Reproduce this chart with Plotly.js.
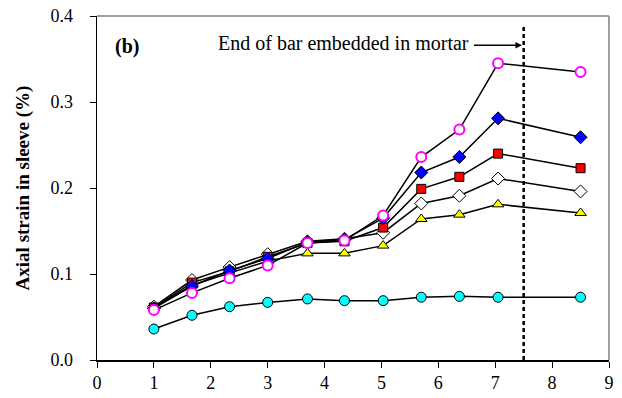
<!DOCTYPE html>
<html>
<head>
<meta charset="utf-8">
<script src="https://cdn.plot.ly/plotly-3.0.1.min.js"></script>
<style>
  html, body { margin: 0; padding: 0; background: #fff; }
  #chart { width: 622px; height: 398px; }
</style>
</head>
<body>
<div id="chart"></div>
<script>
// Measurement positions along the sleeve
const position = [1, 1.67, 2.33, 3, 3.7, 4.35, 5.03, 5.7, 6.37, 7.05, 8.5];

// Axial strain in sleeve (%) for each loading stage
const strainYellow  = [0.061, 0.087, 0.101, 0.115, 0.124, 0.124, 0.133, 0.164, 0.169, 0.181, 0.171];
const strainWhite   = [0.062, 0.093, 0.108, 0.123, 0.138, 0.141, 0.148, 0.182, 0.191, 0.211, 0.196];
const strainRed     = [0.061, 0.090, 0.103, 0.120, 0.136, 0.138, 0.154, 0.199, 0.213, 0.240, 0.223];
const strainBlue    = [0.060, 0.086, 0.104, 0.118, 0.137, 0.140, 0.165, 0.218, 0.236, 0.281, 0.259];
const strainMagenta = [0.058, 0.078, 0.095, 0.110, 0.136, 0.139, 0.168, 0.236, 0.268, 0.345, 0.335];
const strainCyan    = [0.036, 0.052, 0.062, 0.067, 0.071, 0.069, 0.069, 0.073, 0.074, 0.073, 0.073];

// End of the embedded bar
const barEnd = 7.5;

const xTicks = [0, 1, 2, 3, 4, 5, 6, 7, 8, 9];
const yTicks = [0, 0.1, 0.2, 0.3, 0.4];

const FONT = '"Liberation Serif", "Times New Roman", Times, serif';

function series(name, y, symbol, fill, edge, edgeWidth, size) {
  return {
    type: 'scatter', mode: 'lines+markers', name: name,
    x: position, y: y,
    line: { color: '#000', width: 1.5 },
    marker: { symbol: symbol, size: size, color: fill,
              line: { color: edge, width: edgeWidth } },
    showlegend: false, hoverinfo: 'x+y'
  };
}

const traces = [
  series('Stage 1', strainCyan, 'circle', '#00ffff', '#000', 1, 10),
  series('Stage 2', strainYellow, 'triangle-up', '#ffff00', '#000', 1, 10),
  series('Stage 3', strainWhite, 'diamond', '#ffffff', '#000', 1, 10),
  series('Stage 4', strainRed, 'square', '#ff0000', '#000', 1, 9),
  series('Stage 5', strainBlue, 'diamond', '#0000ff', '#000', 1, 10),
  series('Stage 6', strainMagenta, 'circle', '#ffffff', '#ff00ff', 2, 10)
];

const layout = {
  width: 622, height: 398,
  margin: { l: 97, r: 13, t: 16, b: 38 },
  paper_bgcolor: '#fff', plot_bgcolor: '#fff',
  font: { family: FONT, size: 18, color: '#000' },
  xaxis: {
    range: [0, 9], tickvals: xTicks, ticktext: xTicks.map(String),
    showgrid: false, zeroline: false,
    showline: true, linecolor: '#000', linewidth: 1.5,
    ticks: 'outside', ticklen: 6, tickwidth: 1, tickcolor: '#000',
    mirror: false, fixedrange: true,
    tickfont: { family: FONT, size: 18 }
  },
  yaxis: {
    range: [0, 0.4], tickvals: yTicks, tickformat: '.1f',
    showgrid: false, zeroline: false,
    showline: true, linecolor: '#000', linewidth: 1.5,
    ticks: 'outside', ticklen: 6, tickwidth: 1, tickcolor: '#000',
    ticklabelstandoff: 13, fixedrange: true,
    tickfont: { family: FONT, size: 18 },
    title: { text: '<b>Axial strain in sleeve (%)</b>', font: { family: FONT, size: 19 }, standoff: 16 }
  },
  shapes: [
    // frame on the top and right sides
    { type: 'line', xref: 'paper', yref: 'paper', x0: 0, x1: 1, y0: 1, y1: 1,
      line: { color: '#808080', width: 1.5 } },
    { type: 'line', xref: 'paper', yref: 'paper', x0: 1, x1: 1, y0: 0, y1: 1,
      line: { color: '#808080', width: 1.5 } },
    // end of bar embedded in mortar
    { type: 'line', xref: 'x', yref: 'y', x0: barEnd, x1: barEnd, y0: 0, y1: 0.39,
      line: { color: '#000', width: 2.5, dash: '4px,3px' } }
  ],
  annotations: [
    { xref: 'x', yref: 'y', x: 0.52, y: 0.364, text: '<b>(b)</b>', showarrow: false,
      xanchor: 'center', yanchor: 'middle', font: { family: FONT, size: 20 } },
    { xref: 'x', yref: 'y', x: 6.58, y: 0.3686, text: 'End of bar embedded in mortar',
      showarrow: false, xanchor: 'right', yanchor: 'middle', font: { family: FONT, size: 20 } },
    { xref: 'x', yref: 'y', axref: 'x', ayref: 'y', x: barEnd - 0.03, y: 0.366,
      ax: 6.6, ay: 0.366, text: '', showarrow: true,
      arrowhead: 2, arrowsize: 1, arrowwidth: 1.3, arrowcolor: '#000' }
  ]
};

Plotly.newPlot('chart', traces, layout, { staticPlot: true, displayModeBar: false });
</script>
</body>
</html>
